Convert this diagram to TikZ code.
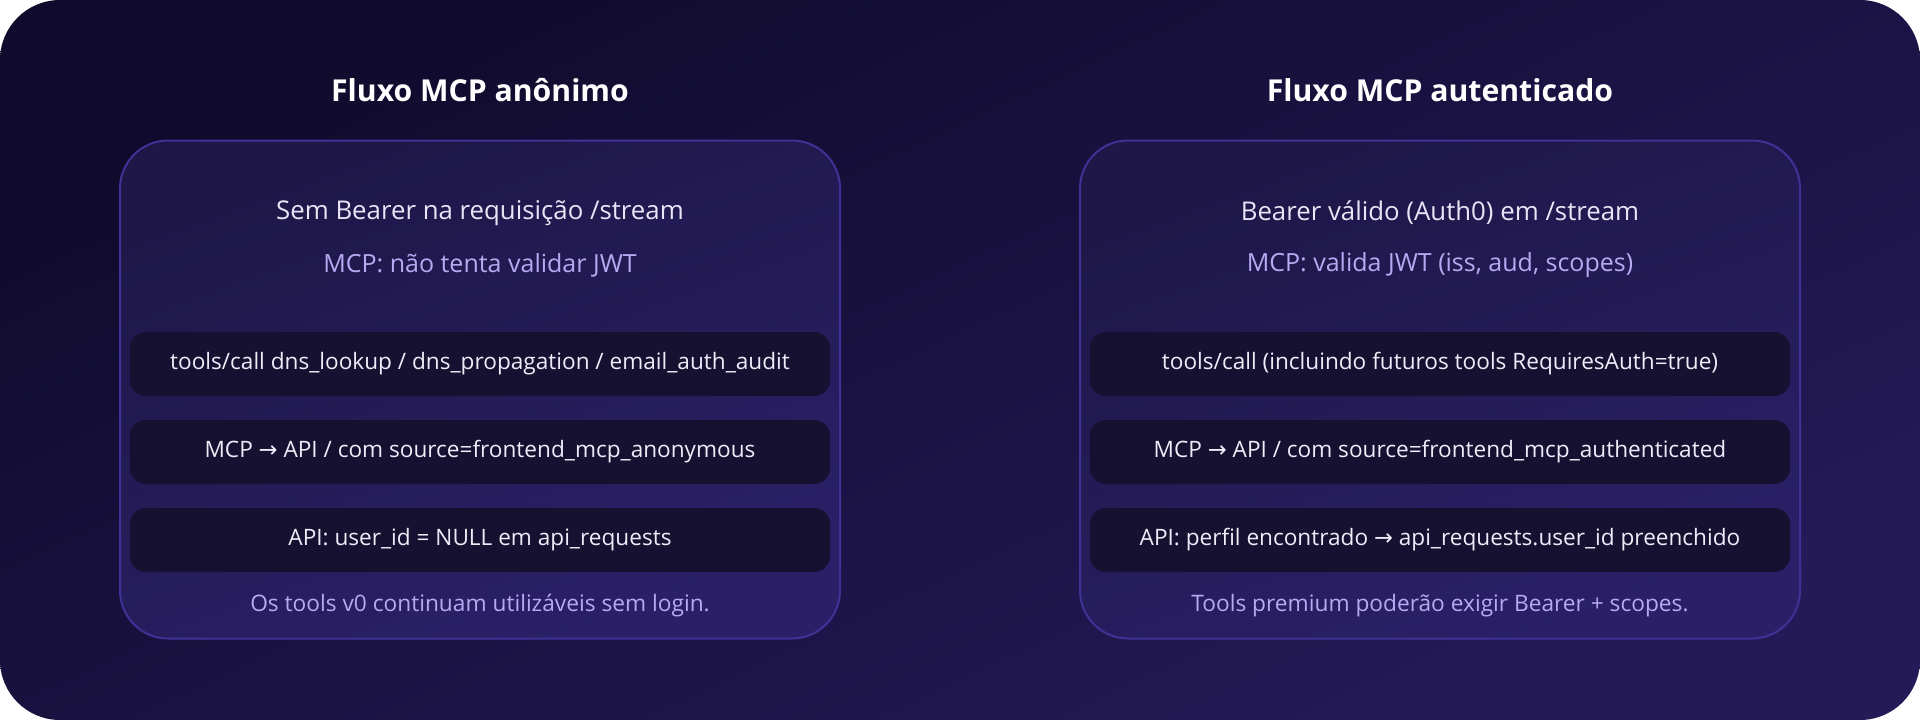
\documentclass[tikz,border=0pt]{standalone}
\usepackage{fontspec}
\setmainfont{Open Sans}
\newfontfamily\symfont{DejaVu Sans}
\newcommand{\arr}{{\symfont →}}
\definecolor{bgA}{HTML}{100B2C}
\definecolor{bgB}{HTML}{241A58}
\definecolor{panA}{HTML}{1E1747}
\definecolor{panB}{HTML}{2B2068}
\definecolor{panLine}{HTML}{3F3296}
\definecolor{boxFill}{HTML}{161131}
\definecolor{headTxt}{HTML}{E8E5F7}
\definecolor{subTxt}{HTML}{B6AAF2}
\definecolor{boxTxt}{HTML}{EEECF8}
\tikzset{
  panel/.style={draw=panLine, line width=2pt, rounded corners=48pt, top color=panA, bottom color=panB, shading angle=20, minimum width=720pt, minimum height=498pt, inner sep=0pt},
  stepbox/.style={fill=boxFill, rounded corners=16pt, minimum width=700pt, minimum height=64pt, inner sep=0pt, text=boxTxt, text height=16.5pt, text depth=5pt, font=\fontsize{22.6}{27}\selectfont},
  titletxt/.style={text=white, font=\fontsize{30.2}{36}\selectfont\bfseries},
  headtxt/.style={text=headTxt, font=\fontsize{25.8}{31}\selectfont},
  subtxt/.style={text=subTxt, font=\fontsize{25}{30}\selectfont},
  foottxt/.style={text=subTxt, font=\fontsize{22.7}{27}\selectfont}
}
\begin{document}
\begin{tikzpicture}[x=1pt,y=-1pt]
\useasboundingbox (0,0) rectangle (1920,720);
\fill[white] (0,0) rectangle (1920,720);
\shade[rounded corners=60pt, top color=bgA, bottom color=bgB, shading angle=25] (0,0) rectangle (1920,720);

% Left flow
\node[titletxt] (lt) at (480,90) {Fluxo MCP anônimo};
\node[panel] (lp) at (480,389.5) {};
\node[headtxt] (lh) at (480,213) {Sem Bearer na requisição /stream};
\node[subtxt] (ls) at (480,265) {MCP: não tenta validar JWT};
\node[stepbox] (l1) at (480,364) {tools/call dns\_lookup / dns\_propagation / email\_auth\_audit};
\node[stepbox] (l2) at (480,452) {MCP \arr{} API / com source=frontend\_mcp\_anonymous};
\node[stepbox] (l3) at (480,540) {API: user\_id = NULL em api\_requests};
\node[foottxt] (lf) at (480,606) {Os tools v0 continuam utilizáveis sem login.};

% Right flow
\node[titletxt] (rt) at (1440,90) {Fluxo MCP autenticado};
\node[panel] (rp) at (1440,389.5) {};
\node[headtxt] (rh) at (1440,213) {Bearer válido (Auth0) em /stream};
\node[subtxt] (rs) at (1440,265) {MCP: valida JWT (iss, aud, scopes)};
\node[stepbox] (r1) at (1440,364) {tools/call (incluindo futuros tools RequiresAuth=true)};
\node[stepbox] (r2) at (1440,452) {MCP \arr{} API / com source=frontend\_mcp\_authenticated};
\node[stepbox] (r3) at (1440,540) {API: perfil encontrado \arr{} api\_requests.user\_id preenchido};
\node[foottxt] (rf) at (1440,606) {Tools premium poderão exigir Bearer + scopes.};
\end{tikzpicture}
\end{document}
